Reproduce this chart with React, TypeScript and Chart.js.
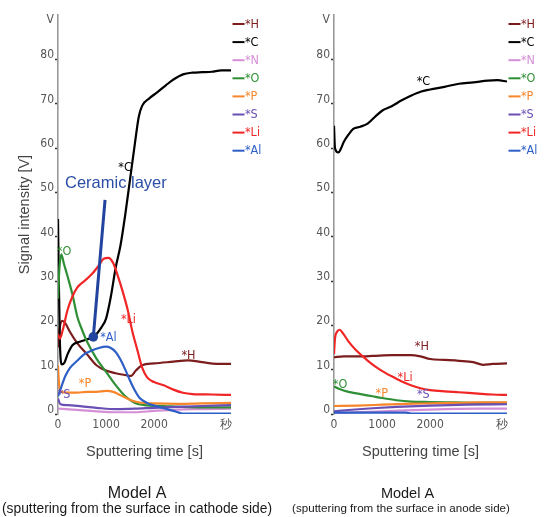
import React, { useEffect, useRef } from "react";
import { Chart, registerables } from "chart.js";

Chart.register(...registerables);

type Pt = [number, number];
type Lbl = [string, number, number, number];

const NARROW = '"Liberation Sans Narrow", "DejaVu Sans Condensed", "Liberation Sans", sans-serif';
const SANS = '"Liberation Sans", Arial, sans-serif';

const ELEMENTS = ["*H", "*C", "*N", "*O", "*P", "*S", "*Li", "*Al"];
const COLORS = ["#7b1d1d", "#000000", "#d58fd6", "#2f8f35", "#f7862a", "#6a4fb4", "#f02626", "#2d5fc6"];

const X_TICKS = [0, 1000, 2000, 3500];
const X_TICK_LABELS = ["0", "1000", "2000", "秒"];
const Y_TICKS = [0, 10, 20, 30, 40, 50, 60, 70, 80, 88];
const Y_TICK_LABELS = ["0", "10", "20", "30", "40", "50", "60", "70", "80", "V"];

const X_TITLE = "Sputtering time [s]";
const Y_TITLE = "Signal intensity [V]";

// ---- Model A, cathode side: [time s, signal V] ----
const CATHODE_H: Pt[] = [[0, 15], [30, 19], [90, 21], [150, 20.5], [250, 18.5], [400, 16], [600, 13.5], [800, 11], [1000, 9.8], [1200, 9.2], [1400, 8.8], [1520, 8.6], [1620, 9.8], [1750, 11], [2000, 11.4], [2400, 11.8], [2700, 12.1], [3000, 11.7], [3300, 11.3], [3600, 11.3]];
const CATHODE_C: Pt[] = [[0, 44], [15, 32], [40, 16], [80, 11.2], [130, 11.5], [200, 13.5], [300, 15.5], [450, 16.3], [600, 16.8], [750, 17.5], [900, 19.5], [1000, 21.5], [1100, 26.5], [1200, 33], [1300, 38], [1400, 45], [1500, 53], [1600, 61], [1680, 67], [1750, 69.5], [1900, 71.2], [2070, 72.6], [2250, 74.2], [2410, 75.5], [2600, 76.6], [2800, 77], [3000, 77.1], [3200, 77.2], [3400, 77.5], [3600, 77.5]];
const CATHODE_N: Pt[] = [[0, 1.2], [300, 1], [800, 0.6], [1200, 0.4], [1600, 0.4], [2000, 0.7], [2500, 1], [3000, 1.1], [3600, 1.2]];
const CATHODE_O: Pt[] = [[0, 26], [30, 33], [70, 36], [120, 34], [200, 31], [300, 27], [400, 22], [500, 19], [600, 16.4], [800, 12.5], [1000, 9.5], [1200, 6.5], [1400, 4], [1600, 2.5], [1800, 2], [2200, 1.8], [2600, 1.6], [3000, 1.5], [3600, 1.5]];
const CATHODE_P: Pt[] = [[0, 11], [20, 7], [60, 5], [200, 4.8], [400, 4.8], [600, 5], [800, 5], [1000, 5.2], [1150, 5], [1250, 4.5], [1400, 3.7], [1550, 3], [1700, 2.6], [2000, 2.4], [2500, 2.3], [3000, 2.4], [3600, 2.5]];
const CATHODE_S: Pt[] = [[0, 3.5], [50, 2.2], [200, 2], [500, 1.7], [800, 1.4], [1200, 1.1], [1600, 1.2], [2000, 1.4], [2500, 1.6], [3000, 1.8], [3600, 2]];
const CATHODE_LI: Pt[] = [[0, 18], [40, 17], [100, 19], [200, 23.5], [300, 26.5], [400, 28.5], [550, 30], [700, 31.5], [850, 33.5], [950, 35], [1050, 35.2], [1150, 34], [1250, 31], [1350, 27.5], [1450, 23.5], [1550, 18.5], [1650, 14.5], [1750, 10.5], [1850, 8.3], [2000, 7.2], [2200, 6.5], [2400, 5.5], [2600, 4.8], [2800, 4.5], [3200, 4.4], [3600, 4.3]];
const CATHODE_AL: Pt[] = [[0, 4], [50, 5.5], [150, 8.5], [250, 10.4], [400, 12], [550, 13.5], [700, 14.3], [850, 14.9], [1000, 15.2], [1100, 14.9], [1200, 14], [1300, 12.3], [1400, 10], [1500, 7.5], [1600, 5.3], [1700, 3.6], [1850, 2.5], [2000, 1.9], [2200, 1.3], [2400, 0.7], [2550, 0.2], [2600, 0.1], [3600, 0.1]];

// ---- Model A, anode side ----
const ANODE_H: Pt[] = [[0, 12.8], [200, 13], [500, 13], [800, 13.1], [1200, 13.3], [1600, 13.3], [1800, 13], [2000, 12.4], [2300, 12.2], [2600, 12], [2900, 11.7], [3100, 11.1], [3300, 11.3], [3600, 11.4]];
const ANODE_C: Pt[] = [[0, 65], [20, 60], [90, 59], [150, 60], [200, 61.3], [300, 63], [400, 64.3], [550, 64.8], [700, 65.5], [850, 67], [1000, 68.4], [1200, 69.4], [1400, 70.7], [1600, 71.8], [1800, 72.7], [2000, 73.2], [2300, 73.8], [2600, 74.5], [2900, 74.8], [3200, 75.2], [3400, 75.3], [3600, 75]];
const ANODE_N: Pt[] = [[0, 0.2], [1000, 0.6], [2000, 1], [3000, 1.2], [3600, 1.2]];
const ANODE_O: Pt[] = [[0, 6.2], [100, 5.7], [300, 5], [500, 4.6], [800, 4], [1000, 3.6], [1300, 3.1], [1600, 2.8], [2000, 2.7], [2500, 2.6], [3000, 2.5], [3600, 2.5]];
const ANODE_P: Pt[] = [[0, 1.8], [500, 1.9], [1000, 2.1], [1500, 2.3], [2000, 2.4], [2500, 2.5], [3000, 2.6], [3600, 2.6]];
const ANODE_S: Pt[] = [[0, 0.6], [300, 0.9], [800, 1.3], [1300, 1.6], [2000, 1.9], [2800, 2.1], [3600, 2.2]];
const ANODE_LI: Pt[] = [[0, 13.5], [20, 17], [60, 18.5], [120, 19], [180, 18.3], [300, 16.4], [450, 14.5], [600, 13], [750, 11.6], [900, 10.4], [1050, 9.4], [1200, 8.5], [1400, 7.4], [1600, 6.5], [1800, 5.8], [2000, 5.4], [2300, 5.1], [2600, 4.9], [3000, 4.6], [3300, 4.4], [3600, 4.3]];
const ANODE_AL: Pt[] = [[0, 0.3], [1500, 0.3], [1600, 0.1], [3600, 0.1]];

const CATHODE_SERIES = [CATHODE_H, CATHODE_C, CATHODE_N, CATHODE_O, CATHODE_P, CATHODE_S, CATHODE_LI, CATHODE_AL];
const ANODE_SERIES = [ANODE_H, ANODE_C, ANODE_N, ANODE_O, ANODE_P, ANODE_S, ANODE_LI, ANODE_AL];

// curve labels: [text, time, signal, series index]
const CATHODE_LABELS: Lbl[] = [["*C", 1396, 55.5, 1], ["*O", 125, 36.6, 3], ["*Li", 1465, 21.2, 6], ["*Al", 1048, 17.1, 7], ["*H", 2715, 13.1, 0], ["*P", 563, 6.9, 4], ["*S", 125, 4.3, 5]];
const ANODE_LABELS: Lbl[] = [["*C", 1860, 75, 1], ["*H", 1827, 15.2, 0], ["*Li", 1479, 8.1, 6], ["*O", 125, 6.5, 3], ["*P", 994, 4.5, 4], ["*S", 1860, 4.3, 5]];

const CERAMIC_TEXT = "Ceramic layer";
const CERAMIC_TEXT_AT: Pt = [146, 51.9];
const CERAMIC_POINTER: Pt[] = [[979, 48.3], [735, 17.4]];

const CAPTION_TITLE = "Model A";
const CATHODE_CAPTION = "(sputtering from the surface in cathode side)";
const ANODE_CAPTION = "(sputtering from the surface in anode side)";

interface PanelCfg {
  series: Pt[][];
  labels: Lbl[];
  yTitle: boolean;
  yWidth: number;
  padRight: number;
  caption: string;
  titleX: number;
  captionX: number;
  titleSize: number;
  captionSize: number;
  ceramic: boolean;
}

function makeOverlay(p: PanelCfg) {
  return {
    id: "overlay",
    afterDatasetsDraw(chart: any) {
      const { ctx, chartArea } = chart;
      const xs = chart.scales.x;
      const ys = chart.scales.y;
      ctx.save();
      ctx.textBaseline = "middle";
      ctx.textAlign = "center";
      ctx.font = `12.5px ${NARROW}`;
      for (const [t, xv, yv, si] of p.labels) {
        ctx.fillStyle = COLORS[si];
        ctx.fillText(t, xs.getPixelForValue(xv), ys.getPixelForValue(yv));
      }
      // legend
      const lx = chartArea.right + 1.5;
      ELEMENTS.forEach((name, i) => {
        const yy = chartArea.top + 9 + i * 18.1;
        ctx.strokeStyle = COLORS[i];
        ctx.lineWidth = 2;
        ctx.beginPath();
        ctx.moveTo(lx, yy);
        ctx.lineTo(lx + 12, yy);
        ctx.stroke();
        ctx.fillStyle = COLORS[i];
        ctx.textAlign = "left";
        ctx.fillText(name, lx + 12.5, yy + 0.5);
      });
      if (p.ceramic) {
        ctx.fillStyle = "#2b4ea6";
        ctx.font = `16.5px ${SANS}`;
        ctx.textAlign = "left";
        ctx.fillText(CERAMIC_TEXT, xs.getPixelForValue(CERAMIC_TEXT_AT[0]), ys.getPixelForValue(CERAMIC_TEXT_AT[1]));
        const [a, b] = CERAMIC_POINTER;
        const ax = xs.getPixelForValue(a[0]);
        const ay = ys.getPixelForValue(a[1]);
        const bx = xs.getPixelForValue(b[0]);
        const by = ys.getPixelForValue(b[1]);
        ctx.strokeStyle = "#23449e";
        ctx.lineWidth = 3;
        ctx.beginPath();
        ctx.moveTo(ax, ay);
        ctx.lineTo(bx, by);
        ctx.stroke();
        ctx.fillStyle = "#23449e";
        ctx.beginPath();
        ctx.arc(bx, by, 4.8, 0, Math.PI * 2);
        ctx.fill();
      }
      ctx.restore();
    },
    afterDraw(chart: any) {
      const { ctx } = chart;
      ctx.save();
      ctx.fillStyle = "#1a1a1a";
      ctx.textAlign = "center";
      ctx.textBaseline = "middle";
      ctx.font = `${p.titleSize}px ${SANS}`;
      ctx.fillText(CAPTION_TITLE, p.titleX, 494);
      ctx.font = `${p.captionSize}px ${SANS}`;
      ctx.fillText(p.caption, p.captionX, 509);
      ctx.restore();
    },
  };
}

function buildChart(canvas: HTMLCanvasElement, p: PanelCfg) {
  const datasets = p.series.map((pts, i) => ({
    label: ELEMENTS[i],
    data: pts.map(([x, y]) => ({ x, y })),
    borderColor: COLORS[i],
    backgroundColor: COLORS[i],
    borderWidth: 2.2,
    pointRadius: 0,
    cubicInterpolationMode: "monotone" as const,
    fill: false,
    order: ELEMENTS.length - i,
  }));
  return new Chart(canvas, {
    type: "line",
    data: { datasets },
    options: {
      animation: false,
      responsive: false,
      maintainAspectRatio: false,
      layout: { padding: { left: 0, right: p.padRight, top: 15, bottom: 53 } },
      plugins: { legend: { display: false }, tooltip: { enabled: false }, title: { display: false } },
      scales: {
        x: {
          type: "linear",
          min: 0,
          max: 3600,
          afterBuildTicks: (s: any) => {
            s.ticks = X_TICKS.map((v) => ({ value: v }));
          },
          afterFit: (s: any) => {
            s.height = 50;
          },
          border: { display: false },
          grid: { display: false, drawTicks: false },
          ticks: {
            autoSkip: false,
            maxRotation: 0,
            padding: 4,
            color: "#555",
            font: { family: NARROW, size: 12 },
            callback: (v: any) => X_TICK_LABELS[X_TICKS.indexOf(Number(v))] ?? "",
          },
          title: {
            display: true,
            text: X_TITLE,
            color: "#444",
            font: { family: SANS, size: 14.5 },
            padding: { top: 0, bottom: 3 },
          },
        },
        y: {
          type: "linear",
          min: 0,
          max: 90,
          afterBuildTicks: (s: any) => {
            s.ticks = Y_TICKS.map((v) => ({ value: v }));
          },
          afterFit: (s: any) => {
            s.width = p.yWidth;
          },
          border: { display: true, color: "#999", width: 1.6 },
          grid: {
            drawOnChartArea: false,
            drawTicks: true,
            tickLength: 3,
            tickWidth: 1.4,
            tickColor: (c: any) => (c.tick && c.tick.value === 88 ? "rgba(0,0,0,0)" : "#333"),
          },
          ticks: {
            autoSkip: false,
            padding: 1,
            labelOffset: -4,
            color: "#555",
            font: { family: NARROW, size: 12 },
            callback: (v: any) => Y_TICK_LABELS[Y_TICKS.indexOf(Number(v))] ?? "",
          },
          title: {
            display: p.yTitle,
            text: Y_TITLE,
            color: "#444",
            font: { family: SANS, size: 14.5 },
            padding: { top: 16, bottom: 0 },
          },
        },
      },
    },
    plugins: [makeOverlay(p)],
  } as any);
}

const CATHODE_PANEL: PanelCfg = {
  series: CATHODE_SERIES,
  labels: CATHODE_LABELS,
  yTitle: true,
  yWidth: 58,
  padRight: 59,
  caption: CATHODE_CAPTION,
  titleX: 137,
  captionX: 137,
  titleSize: 16,
  captionSize: 13.8,
  ceramic: true,
};

const ANODE_PANEL: PanelCfg = {
  series: ANODE_SERIES,
  labels: ANODE_LABELS,
  yTitle: false,
  yWidth: 44,
  padRight: 41,
  caption: ANODE_CAPTION,
  titleX: 117.5,
  captionX: 111,
  titleSize: 14.5,
  captionSize: 11.6,
  ceramic: false,
};

export default function App() {
  const leftRef = useRef<HTMLCanvasElement>(null);
  const rightRef = useRef<HTMLCanvasElement>(null);

  useEffect(() => {
    const charts: Chart[] = [];
    if (leftRef.current) charts.push(buildChart(leftRef.current, CATHODE_PANEL));
    if (rightRef.current) charts.push(buildChart(rightRef.current, ANODE_PANEL));
    return () => charts.forEach((c) => c.destroy());
  }, []);

  return (
    <div style={{ position: "fixed", left: 0, top: 0, width: 548, height: 517, background: "#fff", overflow: "hidden" }}>
      <canvas ref={leftRef} width={290} height={517} style={{ position: "absolute", left: 0, top: 0, width: 290, height: 517 }} />
      <canvas ref={rightRef} width={258} height={517} style={{ position: "absolute", left: 290, top: 0, width: 258, height: 517 }} />
    </div>
  );
}
